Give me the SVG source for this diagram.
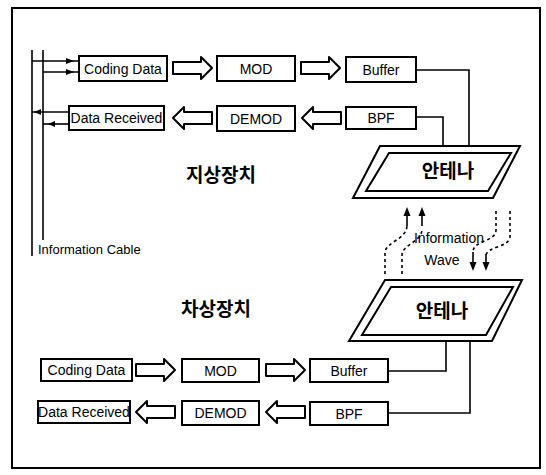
<svg xmlns="http://www.w3.org/2000/svg" width="546" height="475" viewBox="0 0 546 475">
<style>
.box{fill:#fff;stroke:#000;stroke-width:2}
.lbl{font-family:"Liberation Sans",Arial,sans-serif;font-size:14px;fill:#000;text-anchor:middle}
.kr{font-family:"Noto Sans CJK KR","Noto Sans",sans-serif;font-size:19px;fill:#000;text-anchor:middle;font-weight:700}
.ln{fill:none;stroke:#000;stroke-width:1.6}
.ha{fill:#fff;stroke:#000;stroke-width:2;stroke-linejoin:round}
.dash{fill:none;stroke:#000;stroke-width:1.6;stroke-dasharray:3 3}
.ant{fill:#fff;stroke:#000;stroke-width:2}
</style>
<defs>
<path id="rarrow" d="M0,-6 H28 V-11 L39,0 L28,11 V6 H0 Z"/>
<path id="larrow" d="M39,-6 H11 V-11 L0,0 L11,11 V6 H39 Z"/>
</defs>
<rect x="12" y="8" width="528" height="460" fill="#fff" stroke="#000" stroke-width="2"/>

<g id="connectors">
<line class="ln" x1="32" y1="50" x2="32" y2="256" stroke-width="2"/>
<line class="ln" x1="43" y1="50" x2="43" y2="240" stroke-width="2"/>
<line class="ln" x1="32" y1="61" x2="79" y2="61"/>
<line class="ln" x1="43" y1="72" x2="79" y2="72"/>
<polygon points="66,58 74,61 66,64" fill="#000"/>
<polygon points="66,69 74,72 66,75" fill="#000"/>
<line class="ln" x1="32" y1="112" x2="69" y2="112"/>
<line class="ln" x1="43" y1="124" x2="69" y2="124"/>
<polygon points="41,109 34,112 41,115" fill="#000"/>
<polygon points="55,121 48,124 55,127" fill="#000"/>
<use href="#rarrow" class="ha" transform="translate(173,68)"/>
<use href="#rarrow" class="ha" transform="translate(301,68)"/>
<use href="#larrow" class="ha" transform="translate(173,118)"/>
<use href="#larrow" class="ha" transform="translate(302,118)"/>
<polyline class="ln" points="416,70 469,70 469,146"/>
<polyline class="ln" points="416,117 443,117 443,153"/>
<use href="#rarrow" class="ha" transform="translate(136,370)"/>
<use href="#rarrow" class="ha" transform="translate(266,370)"/>
<use href="#larrow" class="ha" transform="translate(136,412)"/>
<use href="#larrow" class="ha" transform="translate(266,412)"/>
<polyline class="ln" points="388,371 446,371 446,335"/>
<polyline class="ln" points="388,413 470,413 470,341"/>
<path class="dash" d="M385,274 V253 C385,242 406,240 407,226"/>
<path class="dash" d="M402,274 V255 C402,245 421,242 422,230"/>
<line class="ln" x1="407" y1="226" x2="407" y2="214" stroke-width="2"/>
<line class="ln" x1="422" y1="226" x2="422" y2="214" stroke-width="2"/>
<polygon points="407,207 403.5,216 410.5,216" fill="#000"/>
<polygon points="422,207 418.5,216 425.5,216" fill="#000"/>
<path class="dash" d="M510,211 V236 C510,248 486,246 486,256"/>
<path class="dash" d="M496,211 V230 C496,242 473,240 473,252"/>
<line class="ln" x1="486" y1="254" x2="486" y2="263" stroke-width="2"/>
<line class="ln" x1="473" y1="252" x2="473" y2="263" stroke-width="2"/>
<polygon points="486,271 482.5,262 489.5,262" fill="#000"/>
<polygon points="473,271 469.5,262 476.5,262" fill="#000"/>
</g>

<g id="cable-label"><text x="38" y="254" font-family="Liberation Sans,Arial,sans-serif" font-size="13">Information Cable</text></g>
<g id="wave-label">
<text class="lbl" x="449" y="243" font-size="15.5">Information</text>
<text class="lbl" x="442" y="265" font-size="15.5">Wave</text>
</g>

<g id="ground-label"><text class="kr" x="221" y="182">지상장치</text></g>
<g id="vehicle-label"><text class="kr" x="216" y="316">차상장치</text></g>

<g id="top-coding"><rect class="box" x="79" y="56" width="88" height="25"/><text class="lbl" x="123" y="73.5">Coding Data</text></g>
<g id="top-mod"><rect class="box" x="217" y="56" width="78" height="25"/><text class="lbl" x="256" y="73.5">MOD</text></g>
<g id="top-buffer"><rect class="box" x="346" y="57" width="70" height="25"/><text class="lbl" x="381" y="74.5">Buffer</text></g>
<g id="top-received"><rect class="box" x="69" y="106" width="95" height="24"/><text class="lbl" x="116.5" y="123">Data Received</text></g>
<g id="top-demod"><rect class="box" x="217" y="106" width="78" height="25"/><text class="lbl" x="256" y="123.5">DEMOD</text></g>
<g id="top-bpf"><rect class="box" x="346" y="107" width="70" height="22"/><text class="lbl" x="381" y="123">BPF</text></g>

<g id="top-antenna">
<polygon class="ant" points="380,146 520,146 493,198 353,198"/>
<polygon class="ant" points="389,153 511,153 488,191 366,191"/>
<text class="kr" x="448" y="178" font-size="18" font-weight="500">안테나</text>
</g>

<g id="bottom-antenna">
<polygon class="ant" points="385,280 522,280 492,341 349,341"/>
<polygon class="ant" points="391,287 513,287 486,335 362,335"/>
<text class="kr" x="442" y="318" font-size="18" font-weight="500">안테나</text>
</g>

<g id="bot-coding"><rect class="box" x="41" y="359" width="91" height="22"/><text class="lbl" x="86.5" y="375">Coding Data</text></g>
<g id="bot-mod"><rect class="box" x="182" y="359" width="77" height="23"/><text class="lbl" x="220.5" y="375.5">MOD</text></g>
<g id="bot-buffer"><rect class="box" x="310" y="359" width="78" height="23"/><text class="lbl" x="349" y="376">Buffer</text></g>
<g id="bot-received"><rect class="box" x="38" y="401" width="92" height="22"/><text class="lbl" x="84" y="417">Data Received</text></g>
<g id="bot-demod"><rect class="box" x="182" y="401" width="77" height="24"/><text class="lbl" x="220.5" y="418">DEMOD</text></g>
<g id="bot-bpf"><rect class="box" x="310" y="402" width="78" height="23"/><text class="lbl" x="349" y="419">BPF</text></g>
</svg>
